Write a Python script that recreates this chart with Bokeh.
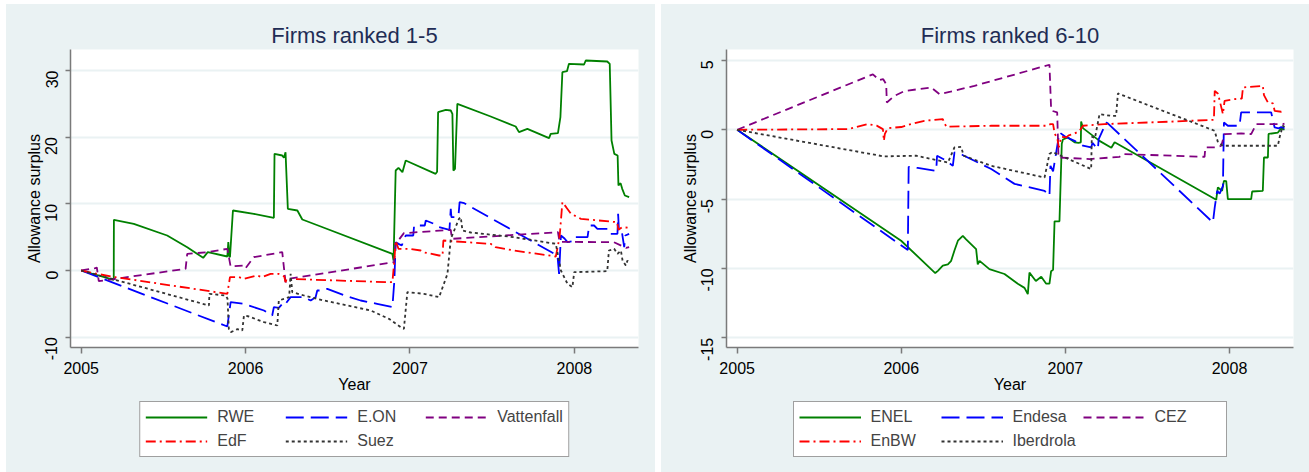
import math
from bokeh.plotting import figure
from bokeh.models import Legend, LegendItem, FixedTicker, Range1d, Spacer, PrintfTickFormatter
from bokeh.layouts import row, column
from bokeh.embed import file_html
from bokeh.resources import INLINE

FONT = "Liberation Sans"
BG = "#EAF2F3"

# ---------------- Data: firms ranked 1-5 ----------------
names_left = ["RWE", "E.ON", "Vattenfall", "EdF", "Suez"]

rwe_x = [2005.000, 2005.198, 2005.199, 2005.320, 2005.523, 2005.645, 2005.742, 2005.770, 2005.889, 2005.895,
         2005.900, 2005.905, 2005.923, 2006.050, 2006.172, 2006.176, 2006.223, 2006.233, 2006.243, 2006.257,
         2006.315, 2006.345, 2006.457, 2006.893, 2006.900, 2006.913, 2006.930, 2006.954, 2006.974, 2007.156,
         2007.165, 2007.171, 2007.218, 2007.248, 2007.258, 2007.264, 2007.274, 2007.288, 2007.491, 2007.643,
         2007.663, 2007.714, 2007.846, 2007.856, 2007.900, 2007.915, 2007.927, 2007.955, 2007.967, 2008.059,
         2008.069, 2008.200, 2008.215, 2008.226, 2008.243, 2008.263, 2008.268, 2008.281, 2008.291, 2008.307,
         2008.333]
rwe_y = [0.0, -1.4, 7.6, 7.0, 5.25, 3.5, 1.9, 2.75, 2.1, 4.25,
         2.2, 2.0, 9.0, 8.5, 7.9, 17.5, 17.25, 16.9, 17.75, 9.25,
         9.0, 7.65, 6.6, 2.5, 1.5, 15.0, 15.4, 14.75, 16.5, 14.5,
         14.8, 23.75, 24.1, 24.0, 23.5, 15.0, 15.25, 25.0, 23.1, 21.6,
         20.75, 21.25, 19.85, 20.5, 20.6, 23.0, 29.75, 29.9, 31.0, 30.9,
         31.5, 31.35, 31.0, 19.5, 17.5, 17.25, 12.75, 13.1, 12.25, 11.25,
         11.0]

eon_x = [2005.000, 2005.889, 2005.909, 2005.990, 2006.112, 2006.162, 2006.172, 2006.202, 2006.233, 2006.243,
         2006.274, 2006.355, 2006.396, 2006.426, 2006.436, 2006.467, 2006.497, 2006.619, 2006.700, 2006.800,
         2006.893, 2006.905, 2006.913, 2006.930, 2006.950, 2006.974, 2007.020, 2007.025, 2007.090, 2007.096,
         2007.146, 2007.177, 2007.240, 2007.248, 2007.252, 2007.270, 2007.295, 2007.302, 2007.330, 2007.897,
         2007.907, 2007.918, 2007.940, 2007.958, 2007.990, 2008.000, 2008.080, 2008.090, 2008.120, 2008.140,
         2008.210, 2008.221, 2008.262, 2008.266, 2008.272, 2008.290, 2008.303, 2008.310, 2008.333]
eon_y = [0.0, -8.4, -4.75, -5.0, -6.0, -6.75, -5.5, -5.6, -4.75, -5.0,
         -4.0, -4.0, -4.5, -4.0, -3.0, -3.0, -2.75, -3.9, -4.5, -5.0,
         -5.5, -1.5, 4.25, 4.0, 3.75, 5.25, 5.25, 6.75, 6.75, 7.5,
         7.0, 6.5, 6.1, 9.25, 8.0, 8.0, 8.2, 10.25, 10.1, 2.25,
         -0.5, 5.25, 4.8, 4.25, 4.4, 5.0, 5.0, 6.75, 6.75, 6.25,
         6.25, 5.5, 5.5, 8.5, 5.5, 5.6, 3.5, 5.25, 5.5]

vat_x = [2005.000, 2005.087, 2005.095, 2005.107, 2005.635, 2005.645, 2005.770, 2005.889, 2005.909, 2005.990,
         2006.000, 2006.050, 2006.223, 2006.243, 2006.260, 2006.903, 2006.913, 2006.963, 2007.248, 2007.255,
         2007.900, 2007.910, 2008.240, 2008.314, 2008.333]
vat_y = [0.0, 0.35, 0.45, -1.6, 0.25, 2.5, 2.75, 3.25, 0.6, 0.75,
         0.35, 2.0, 2.75, -1.75, -1.25, 1.25, 4.0, 5.6, 6.1, 4.75,
         5.75, 4.3, 4.25, 3.4, 3.5]

edf_x = [2005.000, 2005.097, 2005.209, 2005.889, 2005.905, 2005.960, 2005.990, 2006.071, 2006.100, 2006.152,
         2006.200, 2006.235, 2006.243, 2006.250, 2006.862, 2006.893, 2006.905, 2006.913, 2006.930, 2007.000,
         2007.065, 2007.080, 2007.177, 2007.198, 2007.203, 2007.250, 2007.491, 2007.520, 2007.633, 2007.887,
         2007.910, 2007.927, 2007.950, 2007.980, 2008.040, 2008.260, 2008.268, 2008.290, 2008.333]
edf_y = [0.0, -0.5, -1.0, -3.5, -1.0, -1.0, -1.25, -0.75, -1.0, -0.5,
         -0.5, -0.9, -1.75, -1.25, -1.75, -1.75, 1.5, 4.5, 3.25, 3.25,
         3.0, 2.75, 2.25, 2.25, 4.5, 4.4, 4.0, 3.5, 3.0, 2.1,
         5.0, 10.25, 9.5, 8.5, 7.75, 7.25, 6.1, 6.5, 6.4]

suez_x = [2005.000, 2005.777, 2005.780, 2005.878, 2005.890, 2005.898, 2005.910, 2005.950, 2005.980, 2005.990,
          2006.020, 2006.112, 2006.193, 2006.202, 2006.233, 2006.265, 2006.274, 2006.284, 2006.355, 2006.477,
          2006.761, 2006.872, 2006.943, 2006.963, 2006.984, 2007.085, 2007.177, 2007.228, 2007.248, 2007.298,
          2007.309, 2007.319, 2007.370, 2007.633, 2007.887, 2007.918, 2007.958, 2007.988, 2007.999, 2008.200,
          2008.210, 2008.242, 2008.262, 2008.283, 2008.293, 2008.313, 2008.323, 2008.333]
suez_y = [0.0, -5.25, -3.5, -3.75, -4.2, -8.75, -9.25, -8.8, -9.0, -6.75,
          -6.9, -7.75, -8.25, -4.5, -4.25, -4.0, -0.5, -3.25, -3.75, -4.5,
          -6.0, -7.25, -8.5, -8.75, -3.25, -3.5, -4.0, -0.5, 4.75, 7.75,
          8.0, 6.0, 5.7, 5.0, 4.0, 0.0, -2.0, -2.5, -0.25, -0.1,
          3.0, 3.25, 2.5, 3.0, 1.5, 0.75, 1.5, 1.1]

# ---------------- Data: firms ranked 6-10 ----------------
names_right = ["ENEL", "Endesa", "CEZ", "EnBW", "Iberdrola"]

enel_x = [2005.000, 2005.999, 2006.207, 2006.223, 2006.253, 2006.284, 2006.304, 2006.324, 2006.345, 2006.375,
          2006.395, 2006.456, 2006.466, 2006.477, 2006.537, 2006.629, 2006.710, 2006.751, 2006.771, 2006.781,
          2006.820, 2006.853, 2006.883, 2006.903, 2006.913, 2006.925, 2006.934, 2006.964, 2006.978, 2006.985,
          2007.015, 2007.056, 2007.080, 2007.094, 2007.096, 2007.107, 2007.208, 2007.280, 2007.300, 2007.919,
          2007.929, 2007.955, 2007.966, 2007.980, 2007.990, 2008.132, 2008.138, 2008.203, 2008.210, 2008.234,
          2008.238, 2008.295, 2008.315, 2008.335]
enel_y = [0.0, -8.0, -10.33, -10.17, -9.8, -9.7, -9.45, -8.7, -8.0, -7.65,
          -7.9, -8.6, -9.7, -9.45, -10.05, -10.4, -11.1, -11.4, -11.85, -10.3,
          -10.9, -10.6, -11.1, -11.1, -10.2, -10.1, -6.6, -6.6, -1.0, -0.7,
          -0.55, -0.9, -0.95, -0.9, 0.6, 0.12, -0.8, -1.3, -0.9, -5.05,
          -4.16, -4.4, -3.68, -3.7, -5.0, -5.0, -4.45, -4.4, -2.0, -2.0,
          -0.3, -0.2, 0.1, 0.0]

endesa_x = [2005.000, 2006.040, 2006.045, 2006.100, 2006.213, 2006.218, 2006.270, 2006.314, 2006.324, 2006.370,
            2006.548, 2006.690, 2006.873, 2006.903, 2006.909, 2006.925, 2006.964, 2007.000, 2007.056, 2007.107,
            2007.157, 2007.165, 2007.198, 2007.203, 2007.249, 2007.260, 2007.899, 2007.910, 2007.925, 2007.940,
            2007.960, 2007.966, 2007.990, 2008.061, 2008.071, 2008.254, 2008.275, 2008.300, 2008.315, 2008.335]
endesa_y = [0.0, -8.67, -2.67, -2.75, -2.96, -1.87, -2.2, -2.6, -1.63, -1.8,
            -2.83, -3.9, -4.4, -4.76, -2.6, -3.0, -0.19, -0.5, -0.8, -1.15,
            -1.27, -0.95, -1.39, -0.67, 0.53, 0.45, -6.68, -5.6, -4.4, -4.6,
            -4.04, 0.53, 0.29, 0.29, 1.25, 1.25, 0.17, 0.1, 0.2, 0.1]

cez_x = [2005.000, 2005.827, 2005.867, 2005.890, 2005.908, 2005.912, 2005.959, 2006.020, 2006.182, 2006.233,
         2006.300, 2006.446, 2006.903, 2006.913, 2006.918, 2006.950, 2006.958, 2007.150, 2007.330, 2007.350,
         2007.848, 2007.853, 2007.919, 2007.950, 2007.970, 2008.071, 2008.132, 2008.163, 2008.325, 2008.335]
cez_y = [0.0, 4.0, 3.58, 3.65, 3.29, 1.97, 2.45, 2.8, 3.05, 2.57,
         2.75, 3.17, 4.69, 1.5, 1.37, 1.25, -2.0, -2.11, -1.95, -1.75,
         -1.95, -1.27, -1.27, -1.15, -0.31, -0.26, -0.31, 0.41, 0.41, 0.45]

enbw_x = [2005.000, 2005.675, 2005.796, 2005.850, 2005.888, 2005.894, 2005.900, 2005.918, 2006.000, 2006.060,
          2006.141, 2006.253, 2006.274, 2006.548, 2006.883, 2006.910, 2006.925, 2006.935, 2006.950, 2006.960,
          2006.975, 2007.005, 2007.020, 2007.050, 2007.086, 2007.107, 2007.238, 2007.665, 2007.868, 2007.905,
          2007.910, 2007.930, 2007.960, 2007.970, 2008.031, 2008.075, 2008.082, 2008.203, 2008.210, 2008.234,
          2008.265, 2008.275, 2008.315, 2008.335]
enbw_y = [0.0, 0.05, 0.41, 0.3, 0.05, -0.79, -0.3, 0.12, 0.2, 0.41,
          0.65, 0.77, 0.22, 0.29, 0.29, 0.41, 0.41, -0.3, -0.55, -1.27,
          -0.5, -0.55, -0.4, -0.31, -0.07, 0.29, 0.41, 0.6, 0.7, 0.72,
          2.81, 2.6, 1.13, 2.09, 2.21, 2.25, 3.05, 3.17, 2.5, 1.97,
          1.9, 1.37, 1.3, 1.35]

iber_x = [2005.000, 2005.894, 2006.091, 2006.284, 2006.324, 2006.365, 2006.380, 2006.548, 2006.873, 2006.903,
          2006.920, 2007.157, 2007.161, 2007.180, 2007.208, 2007.280, 2007.309, 2007.320, 2007.909, 2007.930,
          2007.960, 2008.295, 2008.305, 2008.325, 2008.335]
iber_y = [0.0, -1.92, -1.87, -2.36, -1.27, -1.23, -1.87, -2.6, -3.44, -1.75,
          -1.6, -2.83, -0.5, -0.6, 1.13, 1.0, 1.01, 2.62, -0.07, -0.91,
          -1.15, -1.15, -0.55, 0.29, 0.2]

x_ticks = [2005, 2006, 2007, 2008]
y_ticks_left = [-10, 0, 10, 20, 30]
y_ticks_right = [-15, -10, -5, 0, 5]

COLORS = ["#008000", "#0000ff", "#800080", "#ff0000", "#333333"]
DASHES = ["solid", "18 7", "8 5", "10 4 2 4", "3 3"]


def make_panel(title, names, series, yticks, yr, width, bl, br, lab_w):
    p = figure(width=width, height=391,
               x_range=Range1d(2004.935, 2008.39), y_range=Range1d(*yr),
               output_backend="svg", toolbar_location=None,
               min_border_left=bl, min_border_right=br,
               min_border_top=45, min_border_bottom=48,
               background_fill_color="white", border_fill_color=BG,
               outline_line_color=None)
    p.title.text = title
    p.title.align = "center"
    p.title.text_font = FONT
    p.title.text_font_size = "22px"
    p.title.text_font_style = "normal"
    p.title.text_color = "#1f2d55"
    p.title.standoff = 3

    for (xs, ys), c, d in zip(series, COLORS, DASHES):
        p.line(xs, ys, line_color=c, line_width=1.8, line_dash=d)

    for ax in (p.xaxis[0], p.yaxis[0]):
        ax.axis_line_color = "#7a7a7a"
        ax.axis_line_width = 1.5
        ax.major_tick_line_color = "#7a7a7a"
        ax.major_tick_line_width = 1.5
        ax.major_tick_out = 6
        ax.major_tick_in = 0
        ax.minor_tick_line_color = None
        ax.major_label_text_font = FONT
        ax.major_label_text_font_size = "16px"
        ax.major_label_text_color = "black"
        ax.axis_label_text_font = FONT
        ax.axis_label_text_font_size = "16px"
        ax.axis_label_text_font_style = "normal"
        ax.axis_label_text_color = "black"

    p.xaxis.ticker = FixedTicker(ticks=x_ticks)
    p.xaxis.axis_label = "Year"
    p.xaxis.major_label_standoff = 8
    p.xaxis.axis_label_standoff = -1
    p.yaxis.ticker = FixedTicker(ticks=yticks)
    p.yaxis.formatter = PrintfTickFormatter(format="%d")
    p.yaxis.axis_label = "Allowance surplus"
    p.yaxis.major_tick_out = 5
    p.yaxis.major_label_orientation = math.pi / 2
    p.yaxis.major_label_standoff = 14
    p.yaxis.axis_label_standoff = -6

    p.xgrid.grid_line_color = None
    p.ygrid.grid_line_color = BG
    p.ygrid.grid_line_width = 2

    # legend strip below the plot; its key renderers are hidden
    q = figure(width=width, height=77, output_backend="svg", toolbar_location=None,
               x_axis_location=None, y_axis_location=None,
               min_border_left=bl, min_border_right=br, min_border_top=0, min_border_bottom=0,
               background_fill_color=BG, border_fill_color=BG, outline_line_color=None)
    q.grid.grid_line_color = None
    items = []
    for (xs, ys), name, c, d in zip(series, names, COLORS, DASHES):
        r = q.line(xs, ys, line_color=c, line_width=1.8, line_dash=d, visible=False)
        items.append(LegendItem(label=name, renderers=[r]))
    legend = Legend(items=items, orientation="horizontal", ncols=3,
                    location="top_center", margin=6, padding=5, spacing=4,
                    glyph_width=62, glyph_height=20, label_height=20,
                    label_width=lab_w, label_standoff=10,
                    label_text_font=FONT, label_text_font_size="16px",
                    border_line_color="#404040", border_line_width=1,
                    background_fill_color="white", background_fill_alpha=1)
    q.add_layout(legend, "center")
    return column(p, q, spacing=0, styles={"background-color": BG})


left = make_panel("Firms ranked 1-5", names_left,
                  [(rwe_x, rwe_y), (eon_x, eon_y), (vat_x, vat_y), (edf_x, edf_y), (suez_x, suez_y)],
                  y_ticks_left, (-11.55, 33.15), 649, 64, 17, 64)
right = make_panel("Firms ranked 6-10", names_right,
                   [(enel_x, enel_y), (endesa_x, endesa_y), (cez_x, cez_y), (enbw_x, enbw_y), (iber_x, iber_y)],
                   y_ticks_right, (-15.7, 5.79), 648, 65, 16, 66)

layout = column(Spacer(height=4), row(Spacer(width=6), left, Spacer(width=6), right, spacing=0), spacing=0)
open("out.html", "w").write(file_html(layout, INLINE))
